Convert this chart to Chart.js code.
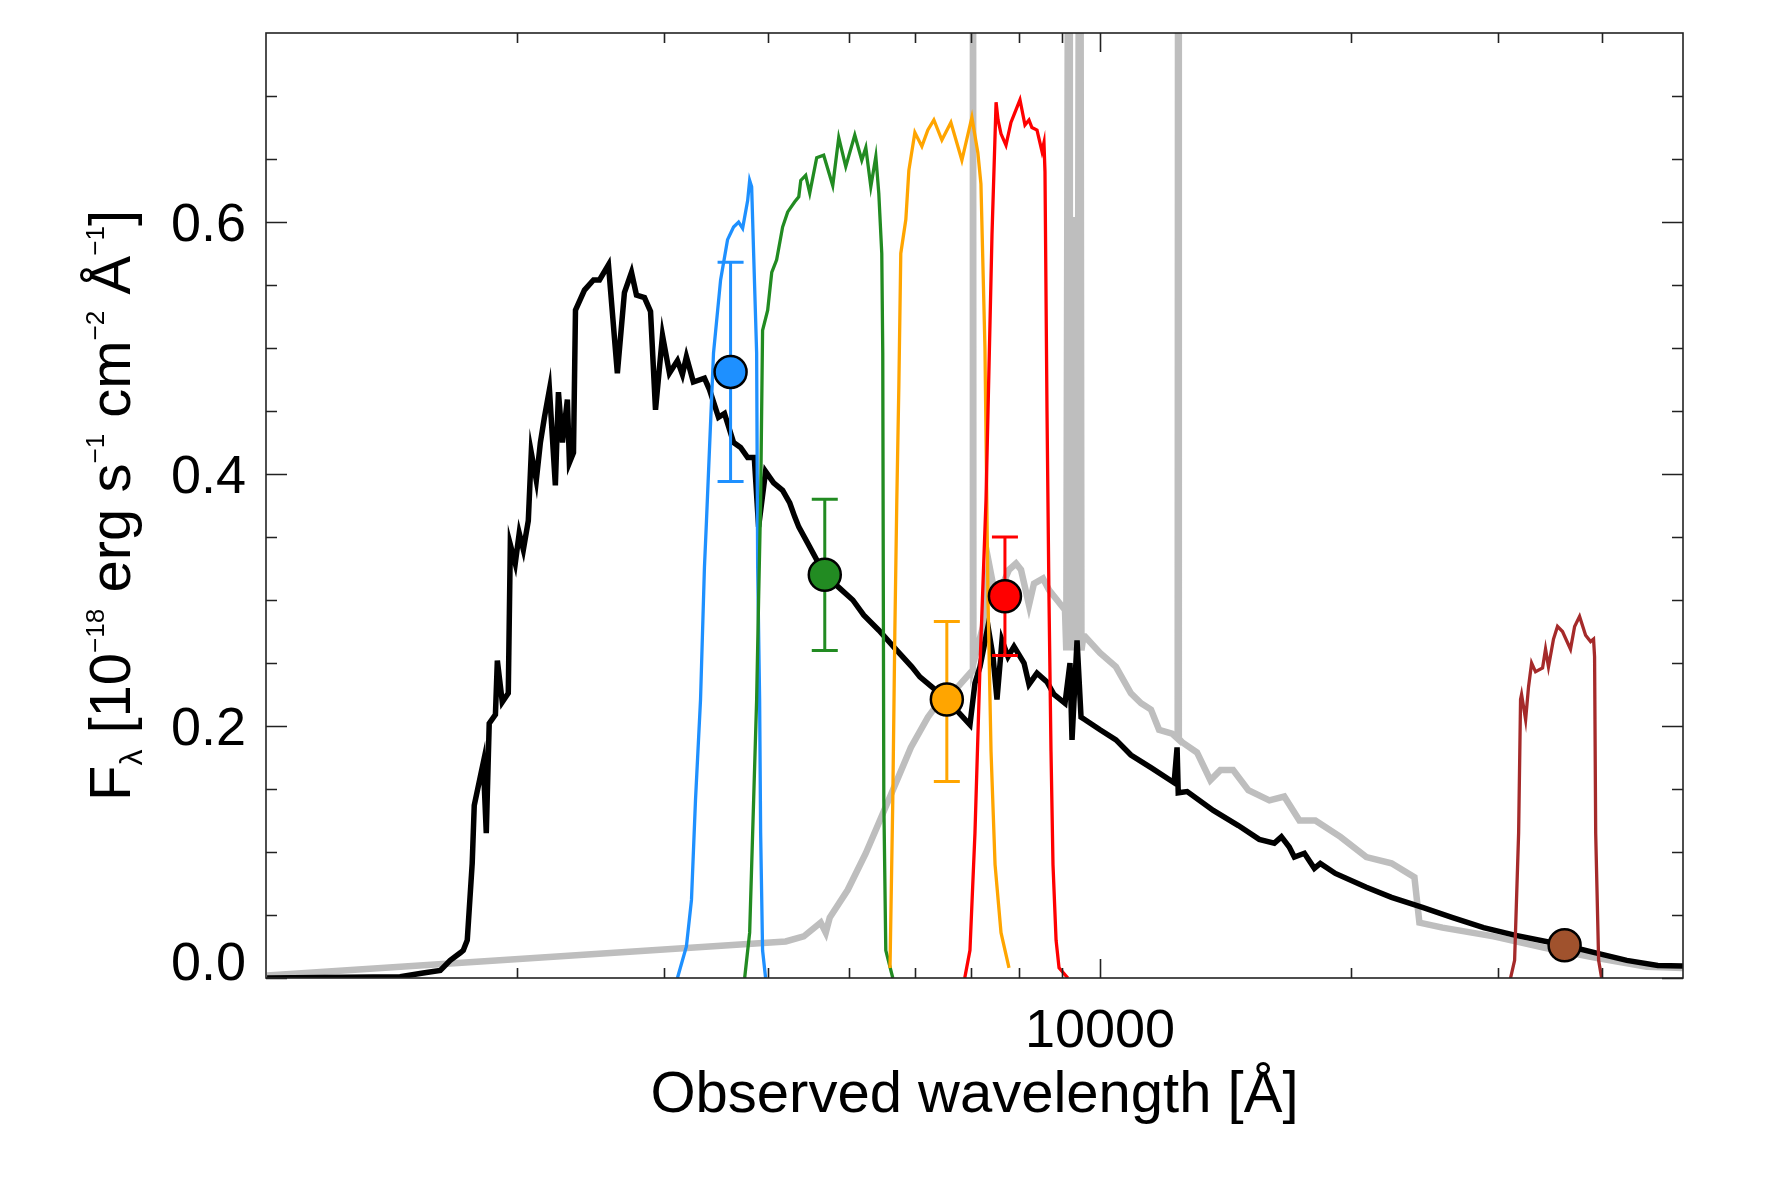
<!DOCTYPE html>
<html>
<head>
<meta charset="utf-8">
<script src="https://cdn.jsdelivr.net/npm/chart.js@4.4.1/dist/chart.umd.min.js"></script>
<style>
  html, body { margin: 0; padding: 0; background: #fff; }
  #wrap { width: 1771px; height: 1180px; }
</style>
</head>
<body>
<div id="wrap"><canvas id="sed" width="1771" height="1180"></canvas></div>
<script>
// best-fit model spectrum (black), wavelength in A, flux in 1e-18 erg/s/cm2/A
const modelWave = [1003, 1448, 1543, 1618, 1663, 1710, 1724, 1743, 1767, 1777, 1822, 1837, 1852, 1884, 1894, 1920, 1952, 1963, 1990, 2012,
  2035, 2063, 2080, 2109, 2133, 2157, 2187, 2223, 2242, 2267, 2298, 2311, 2337, 2350, 2409, 2470, 2511, 2574, 2638, 2690,
  2743, 2781, 2843, 2891, 2931, 2988, 3046, 3114, 3157, 3192, 3254, 3355, 3402, 3488, 3546, 3636, 3707, 3780, 3850, 3896,
  3972, 4061, 4163, 4246, 4305, 4353, 4463, 4677, 4861, 5053, 5209, 5429, 5706, 5948, 6081, 6286, 6551, 6983, 7080, 7179,
  7340, 7442, 7524, 7629, 7756, 7886, 8107, 8219, 8403, 8638, 8807, 9078, 9204, 9256, 9385, 9489, 9594, 10000, 10450, 10890,
  11510, 12270, 12370, 12410, 12720, 13670, 14650, 15520, 16180, 16500, 16860, 17100, 17580, 18070, 18370, 19150, 20860, 22360, 24360, 26470,
  28830, 31410, 36060, 39290, 42810, 46640, 50000];
const modelFlux = [0.000, 0.001, 0.004, 0.006, 0.014, 0.020, 0.022, 0.030, 0.091, 0.137, 0.171, 0.115, 0.202, 0.209, 0.252, 0.219, 0.226, 0.344, 0.329, 0.353,
  0.340, 0.363, 0.417, 0.395, 0.425, 0.445, 0.467, 0.391, 0.465, 0.425, 0.459, 0.409, 0.417, 0.530, 0.546, 0.554, 0.554, 0.566, 0.480, 0.544,
  0.560, 0.542, 0.540, 0.529, 0.451, 0.510, 0.480, 0.490, 0.479, 0.493, 0.473, 0.476, 0.467, 0.445, 0.448, 0.425, 0.421, 0.413, 0.413, 0.358,
  0.402, 0.393, 0.387, 0.377, 0.366, 0.358, 0.345, 0.320, 0.310, 0.300, 0.288, 0.276, 0.260, 0.247, 0.239, 0.231, 0.221, 0.201, 0.234, 0.247,
  0.279, 0.255, 0.221, 0.268, 0.255, 0.263, 0.250, 0.233, 0.242, 0.235, 0.225, 0.218, 0.250, 0.189, 0.268, 0.207, 0.205, 0.197, 0.189, 0.177,
  0.167, 0.155, 0.183, 0.147, 0.148, 0.133, 0.121, 0.110, 0.107, 0.112, 0.104, 0.096, 0.099, 0.087, 0.091, 0.083, 0.072, 0.064, 0.056, 0.048,
  0.040, 0.034, 0.026, 0.020, 0.014, 0.010, 0.0095];

// observed spectrum (grey), with sky-line spikes running off the top
const specWave = [1003, 4198, 4413, 4625, 4690, 4742, 4984, 5238, 5429, 5643, 5932, 6217, 6444, 6754, 6983, 7030, 7040, 7050, 7239, 7360,
  7505, 7778, 7930, 8040, 8219, 8333, 8543, 8686, 8881, 9078, 9110, 9180, 9200, 9260, 9300, 9330, 9390, 9460, 9500, 9550,
  9594, 10000, 10450, 10890, 11200, 11510, 11770, 12200, 12390, 12410, 12430, 12550, 13070, 13560, 13940, 14440,
  15060, 15960, 16630, 17340, 18120, 19420, 20860, 22360, 23820, 24150, 25740, 29640, 34120, 39290, 45240, 50000];
const specFlux = [0.002, 0.029, 0.033, 0.044, 0.036, 0.048, 0.070, 0.099, 0.123, 0.149, 0.183, 0.207, 0.221, 0.231, 0.242, 0.244, 1.2, 0.250, 0.279, 0.329,
  0.300, 0.324, 0.329, 0.324, 0.296, 0.313, 0.317, 0.308, 0.300, 0.292, 0.260, 1.2, 0.260, 0.604, 0.260, 0.604, 0.260, 1.2, 0.260, 0.271,
  0.271, 0.258, 0.247, 0.226, 0.218, 0.213, 0.197, 0.194, 0.190, 1.2, 0.190, 0.187, 0.179, 0.157, 0.165, 0.165,
  0.149, 0.141, 0.144, 0.125, 0.125, 0.112, 0.096, 0.091, 0.080, 0.044, 0.040, 0.033, 0.024, 0.016, 0.009, 0.008];

// filter transmission curves (scaled)
const uWave = [3114, 3192, 3237, 3273, 3319, 3355, 3374, 3440, 3508, 3576, 3636, 3687, 3728, 3780, 3801, 3822, 3843, 3875, 3886, 3907, 3918, 3939, 3972];
const uTrans = [0, 0.025, 0.062, 0.141, 0.221, 0.326, 0.363, 0.496, 0.554, 0.586, 0.596, 0.600, 0.595, 0.617, 0.633, 0.628, 0.575, 0.496, 0.326, 0.221, 0.115, 0.022, 0];
const gWave = [3749, 3801, 3843, 3875, 3896, 3918, 3939, 3995, 4040, 4095, 4163, 4222, 4305, 4353, 4377, 4437, 4487, 4574, 4663, 4781,
  4861, 4956, 5081, 5180, 5238, 5311, 5385, 5429, 5474, 5489, 5505, 5535, 5643];
const gTrans = [0, 0.036, 0.141, 0.221, 0.300, 0.379, 0.514, 0.530, 0.560, 0.570, 0.596, 0.608, 0.616, 0.620, 0.633, 0.637, 0.623, 0.651, 0.653, 0.629,
  0.667, 0.644, 0.669, 0.649, 0.659, 0.628, 0.652, 0.623, 0.575, 0.496, 0.141, 0.022, 0];
const rWave = [5600, 5643, 5675, 5706, 5738, 5769, 5850, 5899, 5998, 6115, 6217, 6321, 6462, 6625, 6829, 7020, 7137, 7198, 7278, 7340, 7401, 7484, 7608, 7778];
const rTrans = [0.008, 0.141, 0.274, 0.379, 0.469, 0.575, 0.602, 0.641, 0.671, 0.660, 0.673, 0.681, 0.665, 0.679, 0.649, 0.683, 0.655, 0.630, 0.500, 0.300, 0.180, 0.090, 0.036, 0.008];
const iWave = [6883, 6983, 7080, 7179, 7299, 7340, 7421, 7505, 7546, 7608, 7713, 7820, 7907, 8017, 8128, 8219, 8285, 8403, 8519, 8566,
  8590, 8638, 8686, 8734, 8782, 8857, 8930, 9150];
const iTrans = [0, 0.022, 0.115, 0.247, 0.379, 0.450, 0.590, 0.695, 0.681, 0.670, 0.661, 0.679, 0.687, 0.697, 0.677, 0.681, 0.675, 0.673, 0.656, 0.663,
  0.640, 0.450, 0.300, 0.180, 0.090, 0.030, 0.008, 0];
const kWave = [31060, 31410, 31760, 31930, 32020, 32380, 32640, 32920, 33280, 33930, 34210, 34490, 34970, 35360, 35850, 36650, 37070, 37580, 38210, 38740,
  39060, 39170, 39290, 39610, 39940];
const kTrans = [0, 0.014, 0.115, 0.221, 0.225, 0.205, 0.231, 0.250, 0.243, 0.246, 0.261, 0.247, 0.269, 0.279, 0.275, 0.261, 0.279, 0.287, 0.272, 0.267,
  0.269, 0.255, 0.115, 0.014, 0];

// photometry
const photWave = [3606, 4677, 6551, 7691, 36060];
const photFlux = [0.481, 0.320, 0.221, 0.303, 0.026];
const photLo = [0.394, 0.260, 0.156, 0.256, 0.026];
const photHi = [0.568, 0.380, 0.283, 0.350, 0.026];
const photColors = ['#1e90ff', '#228b22', '#ffa500', '#ff0000', '#a0522d'];

// axes
const xMinorTicks = [2000, 3000, 4000, 5000, 6000, 7000, 8000, 9000, 20000, 30000, 40000];
const xMajorTicks = [10000];
const xTickLabels = ['10000'];
const yMajorTicks = [0, 0.2, 0.4, 0.6];
const yTickLabels = ['0.0', '0.2', '0.4', '0.6'];
const yMinorTicks = [0.05, 0.1, 0.15, 0.25, 0.3, 0.35, 0.45, 0.5, 0.55, 0.65, 0.7];

const FONT = '"Liberation Sans", Arial, Helvetica, sans-serif';
const pairs = (w, f) => w.map((x, i) => ({ x, y: f[i] }));

function filterSet(w, t, color, order) {
  return { data: pairs(w, t), borderColor: color, borderWidth: 3.3, pointRadius: 0, order };
}

const errorBars = {
  id: 'errorBars',
  beforeDatasetDraw(chart, args) {
    if (args.index !== 0) return;
    const { ctx, scales: { x, y } } = chart;
    ctx.save();
    ctx.lineWidth = 3;
    photWave.forEach((w, i) => {
      const px = x.getPixelForValue(w);
      const lo = y.getPixelForValue(photLo[i]);
      const hi = y.getPixelForValue(photHi[i]);
      ctx.strokeStyle = photColors[i];
      ctx.beginPath();
      ctx.moveTo(px, lo); ctx.lineTo(px, hi);
      ctx.moveTo(px - 13, lo); ctx.lineTo(px + 13, lo);
      ctx.moveTo(px - 13, hi); ctx.lineTo(px + 13, hi);
      ctx.stroke();
    });
    ctx.restore();
  }
};

const frame = {
  id: 'frame',
  afterDraw(chart) {
    const { ctx, chartArea: a, scales: { x, y } } = chart;
    ctx.save();
    ctx.strokeStyle = '#222';
    ctx.lineWidth = 1.6;
    ctx.strokeRect(a.left, a.top, a.right - a.left, a.bottom - a.top);

    ctx.beginPath();
    const xTick = (v, len) => {
      const p = Math.round(x.getPixelForValue(v)) + 0.5;
      ctx.moveTo(p, a.bottom); ctx.lineTo(p, a.bottom - len);
      ctx.moveTo(p, a.top); ctx.lineTo(p, a.top + len);
    };
    const yTick = (v, len) => {
      const p = Math.round(y.getPixelForValue(v)) + 0.5;
      ctx.moveTo(a.left, p); ctx.lineTo(a.left + len, p);
      ctx.moveTo(a.right, p); ctx.lineTo(a.right - len, p);
    };
    xMinorTicks.forEach(v => xTick(v, 10));
    xMajorTicks.forEach(v => xTick(v, 19));
    yMinorTicks.forEach(v => yTick(v, 11));
    yMajorTicks.forEach(v => yTick(v, 21));
    ctx.stroke();

    ctx.fillStyle = '#000';
    ctx.font = `54px ${FONT}`;
    ctx.textBaseline = 'alphabetic';
    ctx.textAlign = 'center';
    xMajorTicks.forEach((v, i) => ctx.fillText(xTickLabels[i], x.getPixelForValue(v), a.bottom + 69));
    ctx.textAlign = 'right';
    yMajorTicks.forEach((v, i) => {
      const p = Math.min(y.getPixelForValue(v), a.bottom - 17);
      ctx.fillText(yTickLabels[i], a.left - 20, p + 19);
    });

    // x title
    ctx.font = `58px ${FONT}`;
    ctx.textAlign = 'center';
    ctx.fillText('Observed wavelength [\u00c5]', (a.left + a.right) / 2, a.bottom + 134);

    // y title with sub/superscripts
    const size = 58;
    const parts = [
      { t: 'F', s: 1, dy: 0 },
      { t: '\u03bb', s: 0.55, dy: 0.2 },
      { t: ' [10', s: 1, dy: 0 },
      { t: '\u221218', s: 0.45, dy: -0.45 },
      { t: ' erg s', s: 1, dy: 0 },
      { t: '\u22121', s: 0.45, dy: -0.45 },
      { t: ' cm', s: 1, dy: 0 },
      { t: '\u22122', s: 0.45, dy: -0.45 },
      { t: ' \u00c5', s: 1, dy: 0 },
      { t: '\u22121', s: 0.45, dy: -0.45 },
      { t: ']', s: 1, dy: 0 }
    ];
    let total = 0;
    parts.forEach(p => { ctx.font = `${size * p.s}px ${FONT}`; p.w = ctx.measureText(p.t).width; total += p.w; });
    ctx.translate(130, (a.top + a.bottom) / 2);
    ctx.rotate(-Math.PI / 2);
    ctx.textAlign = 'left';
    let cx = -total / 2;
    parts.forEach(p => {
      ctx.font = `${size * p.s}px ${FONT}`;
      ctx.fillText(p.t, cx, p.dy * size);
      cx += p.w;
    });
    ctx.restore();
  }
};

new Chart(document.getElementById('sed'), {
  type: 'line',
  data: {
    datasets: [
      {
        type: 'scatter',
        data: pairs(photWave, photFlux),
        pointRadius: 16,
        pointBackgroundColor: photColors,
        pointBorderColor: '#000',
        pointBorderWidth: 2.5,
        showLine: false,
        clip: false,
        order: 0
      },
      filterSet(uWave, uTrans, '#1e90ff', 1.5),
      filterSet(gWave, gTrans, '#228b22', 1.4),
      filterSet(rWave, rTrans, '#ffa500', 1.3),
      filterSet(iWave, iTrans, '#ff0000', 1.2),
      filterSet(kWave, kTrans, '#a52a2a', 1.1),
      { data: pairs(modelWave, modelFlux), borderColor: '#000', borderWidth: 5.5, pointRadius: 0, order: 2 },
      { data: pairs(specWave, specFlux), borderColor: '#bebebe', borderWidth: 6.5, pointRadius: 0, order: 3,
        clip: { left: 0, top: 0, right: 0, bottom: 4 } }
    ]
  },
  options: {
    responsive: false,
    animation: false,
    devicePixelRatio: 1,
    layout: { padding: { left: 266, right: 88, top: 33, bottom: 202 } },
    plugins: { legend: { display: false }, tooltip: { enabled: false } },
    elements: { line: { tension: 0 } },
    scales: {
      x: { type: 'logarithmic', min: 1000, max: 50000, display: false },
      y: { type: 'linear', min: 0, max: 0.75, display: false }
    }
  },
  plugins: [errorBars, frame]
});
</script>
</body>
</html>
